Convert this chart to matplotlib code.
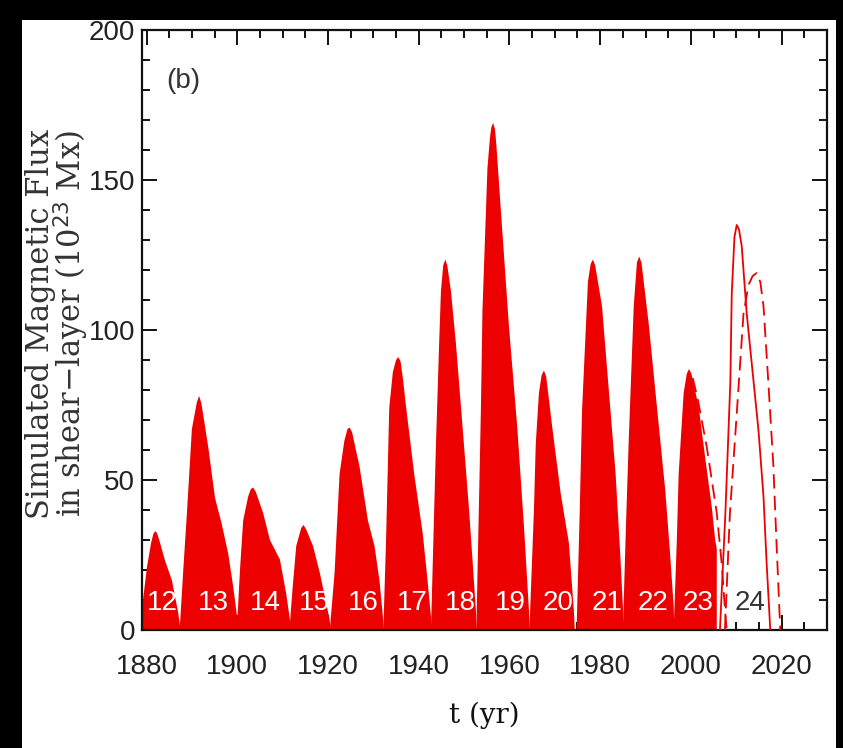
import numpy as np
import matplotlib
matplotlib.use("Agg")
import matplotlib.pyplot as plt
from matplotlib.patches import Rectangle
from matplotlib.ticker import MultipleLocator

# simulated shear-layer flux per cycle (yr, 1e23 Mx)
c12_t = [1878.8, 1879.3, 1880.1, 1881.0, 1881.5, 1881.9, 1882.3, 1882.8, 1884.1, 1885.6, 1886.95, 1887.5]
c12_f = [0, 11, 21, 29, 32, 33, 32.3, 30, 23, 16.5, 6, 0]
c13_t = [1887.3, 1888.1, 1888.9, 1890.0, 1891.1, 1891.6, 1892.1, 1893.6, 1895.1, 1896.55, 1898.0, 1899.1, 1900.0, 1900.2]
c13_f = [0, 20, 39, 67, 76, 78, 75.5, 61, 44, 35.5, 25.5, 14.5, 4, 0]
c14_t = [1899.9, 1900.6, 1901.3, 1902.4, 1903.0, 1903.5, 1904.1, 1905.7, 1907.2, 1909.4, 1910.8, 1911.6, 1911.8]
c14_f = [0, 20, 36.5, 44.5, 47, 47.5, 46, 39, 30, 23.5, 12, 3.5, 0]
c15_t = [1911.5, 1912.2, 1913.0, 1914.1, 1914.6, 1915.2, 1916.7, 1918.2, 1919.6, 1920.35, 1920.6]
c15_f = [0, 14, 28, 34, 35, 33.5, 28, 19, 9, 3.5, 0]
c16_t = [1920.4, 1921.45, 1922.55, 1923.6, 1924.3, 1924.75, 1925.3, 1926.95, 1928.8, 1930.25, 1931.35, 1932.1, 1932.35]
c16_f = [0, 19, 52, 63, 67, 67.5, 66, 54.5, 36.5, 28, 16.5, 4.5, 0]
c17_t = [1932.2, 1932.8, 1933.5, 1934.3, 1935.0, 1935.5, 1936.0, 1936.5, 1937.2, 1939.0, 1940.9, 1941.95, 1942.7, 1942.9]
c17_f = [0, 30, 74, 86, 90, 91, 89.5, 84, 74.5, 52, 32, 16.5, 4.5, 0]
c18_t = [1942.7, 1943.8, 1944.5, 1944.9, 1945.4, 1945.85, 1946.3, 1947.1, 1948.2, 1949.65, 1951.1, 1951.85, 1952.6, 1952.8]
c18_f = [0, 62, 95.5, 113, 121.5, 123.5, 121.5, 113, 95.5, 68, 40, 23.5, 6.5, 0]
c19_t = [1952.7, 1953.7, 1954.05, 1955.15, 1955.7, 1956.0, 1956.4, 1956.8, 1957.1, 1958.1, 1959.9, 1961.7, 1963.2, 1964.3, 1964.5]
c19_f = [0, 73, 106.5, 154, 164, 167.5, 169, 167, 162, 140, 101, 68, 34.5, 6.5, 0]
c20_t = [1964.4, 1965.4, 1965.8, 1966.5, 1967.1, 1967.6, 1968.1, 1969.4, 1971.3, 1973.1, 1974.2, 1974.4]
c20_f = [0, 40, 62, 79, 85, 86.5, 84.5, 68, 45.5, 29, 6.5, 0]
c21_t = [1974.8, 1975.5, 1976.0, 1977.3, 1977.9, 1978.4, 1978.9, 1980.4, 1981.9, 1983.4, 1984.45, 1985.0, 1985.15]
c21_f = [0, 40, 73, 116, 122, 123.5, 121.5, 108, 80, 52, 24.5, 8, 0]
c22_t = [1985.0, 1985.7, 1986.3, 1987.4, 1988.1, 1988.6, 1989.1, 1990.7, 1992.5, 1994.35, 1995.45, 1996.2, 1996.35]
c22_f = [0, 35.5, 63.5, 108, 122.5, 124.5, 122.5, 102, 74.5, 46.5, 24.5, 8, 0]
c23_t = [1996.2, 1996.9, 1997.3, 1998.4, 1999.1, 1999.6, 2000.1, 2001.7, 2003.1, 2004.6, 2005.35, 2005.7, 2005.7]
c23_f = [0, 30, 52, 79, 85.5, 87, 85.5, 74.5, 58, 41, 30, 27, 0]

# continuation of cycle 23 (dashed) and the two cycle 24 forecasts
c23_dash_t = [2000.4, 2001.5, 2003.5, 2005.7, 2006.8, 2007.6, 2007.9]
c23_dash_f = [84, 77, 61, 39, 22, 5, 0]
c24_solid_t = [2006.4, 2007.6, 2008.7, 2009.0, 2009.6, 2010.1, 2010.6, 2011.2, 2012.3, 2013.8, 2014.9, 2016.0, 2016.7, 2017.5]
c24_solid_f = [0, 39, 83, 112, 131, 135, 133.5, 128, 105.5, 83, 66.5, 44.5, 22, 0]
c24_dash_t = [2007.5, 2008.6, 2010.1, 2011.6, 2012.7, 2013.6, 2014.5, 2015.3, 2016.0, 2017.05, 2018.15, 2018.9, 2019.7]
c24_dash_f = [0, 39, 72, 105.5, 115, 118, 119, 116, 108, 83, 55.5, 28, 0]

cycle_names = ["12", "13", "14", "15", "16", "17", "18", "19", "20", "21", "22", "23", "24"]
label_years = [1883.5, 1894.8, 1906.3, 1916.9, 1927.8, 1938.5, 1949.1, 1960.1, 1970.8,
               1981.45, 1991.7, 2001.6, 2013.0]
label_level = 9

xticks = [1880, 1900, 1920, 1940, 1960, 1980, 2000, 2020]
yticks = [0, 50, 100, 150, 200]

red = "#ec0000"
sans = ["Liberation Sans", "DejaVu Sans"]

fig = plt.figure(figsize=(8.43, 7.48), dpi=100, facecolor="black")
fig.patches.append(Rectangle((22 / 843, 0), (836 - 22) / 843, (748 - 20) / 748,
                             transform=fig.transFigure, facecolor="white",
                             edgecolor="none", zorder=-10))
ax = fig.add_axes([142 / 843, 1 - 630 / 748, 685 / 843, 600 / 748])
ax.set_facecolor("white")

filled = [(c12_t, c12_f), (c13_t, c13_f), (c14_t, c14_f), (c15_t, c15_f),
          (c16_t, c16_f), (c17_t, c17_f), (c18_t, c18_f), (c19_t, c19_f),
          (c20_t, c20_f), (c21_t, c21_f), (c22_t, c22_f), (c23_t, c23_f)]
for t, f in filled:
    ax.fill(t, f, color=red, lw=0, zorder=2)

ax.plot(c23_dash_t, c23_dash_f, color=red, lw=1.3, ls=(0, (8, 4)), zorder=3)
ax.plot(c24_solid_t, c24_solid_f, color=red, lw=1.3, zorder=3)
ax.plot(c24_dash_t, c24_dash_f, color=red, lw=1.3, ls=(0, (8, 4)), zorder=3)

for name, yr in zip(cycle_names, label_years):
    col = "#333333" if name == "24" else "white"
    ax.text(yr, label_level, name, ha="center", va="center", color=col,
            fontsize=20, family=sans, zorder=4)

ax.text(0.06, 0.915, "(b)", transform=ax.transAxes, ha="center", va="center",
        fontsize=20, color="#333333", family=sans)

ax.set_xlim(1879, 2030)
ax.set_ylim(0, 200)
ax.set_xticks(xticks)
ax.set_yticks(yticks)
ax.xaxis.set_minor_locator(MultipleLocator(5))
ax.yaxis.set_minor_locator(MultipleLocator(10))
ax.tick_params(which="both", direction="in", top=True, right=True, width=1.4, color="#111111")
ax.tick_params(which="major", length=11)
ax.tick_params(which="minor", length=6)
ax.tick_params(axis="x", which="major", pad=17)
ax.tick_params(axis="y", which="major", pad=5)
for lab in ax.get_xticklabels() + ax.get_yticklabels():
    lab.set_family(sans)
    lab.set_fontsize(20)
    lab.set_color("#222222")
for sp in ax.spines.values():
    sp.set_linewidth(1.6)
    sp.set_color("#111111")

ax.text(-0.122, 0.51, "Simulated Magnetic Flux\nin shear\u2212layer (10$^{23}$ Mx)",
        transform=ax.transAxes, rotation=90, ha="center", va="center",
        fontsize=22, family="DejaVu Serif", color="#333333", linespacing=0.85)
ax.text(0.499, -0.143, "t (yr)", transform=ax.transAxes, ha="center", va="center",
        fontsize=20, family="DejaVu Serif", color="#111111")

fig.savefig("out.png", dpi=100, facecolor=fig.get_facecolor())
